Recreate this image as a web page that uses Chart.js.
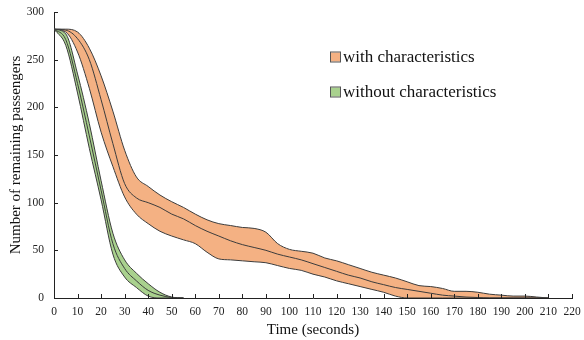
<!DOCTYPE html>
<html>
<head>
<meta charset="utf-8">
<script src="https://cdn.jsdelivr.net/npm/chart.js@4.4.0/dist/chart.umd.min.js"></script>
<style>
    html, body { margin: 0; padding: 0; background: #fff; }
    #wrap { width: 584px; height: 340px; }
</style>
</head>
<body>
<div id="wrap"><canvas id="evacChart" width="584" height="340"></canvas></div>
<script>
// time in seconds
var times = [0, 5, 10, 15, 20, 25, 30, 35, 40, 45, 50, 55, 60, 65, 70, 75, 80, 85, 90, 95, 100,
    105, 110, 115, 120, 125, 130, 135, 140, 145, 150, 155, 160, 165, 170, 175, 180, 185, 190, 195, 200, 205, 210];

// with characteristics (orange band)
var withUpper = [282, 282, 279, 262, 233, 196, 155, 127, 117, 108, 101, 95, 88, 82, 78, 76, 74, 73, 69, 57, 51,
    49, 47, 42, 39, 35, 31, 27, 24, 21, 17, 13, 12, 10, 7, 7, 6, 4, 3, 2, 2, 1, 0];
var withMean = [282, 281, 272, 250, 208, 162, 120, 105, 100, 95, 88, 83, 76, 70, 65, 60, 56, 53, 50, 46, 43,
    40, 36, 32, 28, 24, 21, 17, 14, 11, 9, 7, 5, 3, 2, 1, 0.5, 0, 0, 0, 0, 0, 0];
var withLower = [282, 279, 258, 220, 174, 138, 106, 88, 78, 70, 65, 61, 57, 48, 41, 40, 39, 38, 37, 34, 31,
    29, 25, 22, 18, 15, 12, 9, 6, 2, 0, 0, 0, 0, 0, 0, 0, 0, 0, 0, 0, 0, 0];

// without characteristics (green band)
var timesShort = [0, 5, 10, 15, 20, 25, 30, 35, 40, 45, 50, 55];
var withoutUpper = [282, 277, 235, 183, 123, 68, 40, 26, 15, 6, 1, 0];
var withoutMean = [282, 271, 225, 170, 113, 57, 31, 18, 8, 3, 0.5, 0];
var withoutLower = [282, 265, 215, 157, 103, 46, 22, 11, 2, 0, 0, 0];

var xTickValues = [0, 10, 20, 30, 40, 50, 60, 70, 80, 90, 100, 110, 120, 130, 140, 150, 160, 170, 180, 190, 200, 210, 220];
var yTickValues = [0, 50, 100, 150, 200, 250, 300];

var legendLabels = ['with characteristics', 'without characteristics'];

var ORANGE = 'rgb(244, 177, 131)';
var GREEN = 'rgb(169, 209, 142)';
var EDGE = '#3c3c3c';

function pts(xs, ys) {
    return ys.map(function (v, i) { return { x: xs[i], y: v }; });
}

// lower "order" is drawn on top
function band(xs, ys, fill, color, order) {
    return {
        data: pts(xs, ys),
        borderColor: EDGE,
        borderWidth: 1,
        backgroundColor: color || 'transparent',
        fill: fill,
        order: order,
        pointRadius: 0,
        cubicInterpolationMode: 'monotone'
    };
}

// ticks pointing into the plot, plus the legend box
var decorations = {
    id: 'decorations',
    afterDraw: function (chart) {
        var ctx = chart.ctx;
        var xs = chart.scales.x, ys = chart.scales.y;
        var area = chart.chartArea;
        ctx.save();
        ctx.strokeStyle = '#222';
        ctx.lineWidth = 1;
        ctx.beginPath();
        xTickValues.forEach(function (v) {
            var px = Math.round(xs.getPixelForValue(v)) + 0.5;
            ctx.moveTo(px, area.bottom);
            ctx.lineTo(px, area.bottom - 4);
        });
        yTickValues.forEach(function (v) {
            var py = Math.round(ys.getPixelForValue(v)) + 0.5;
            ctx.moveTo(area.left, py);
            ctx.lineTo(area.left + 4, py);
        });
        ctx.stroke();

        var colors = [ORANGE, GREEN];
        ctx.font = '17px "Liberation Serif", "Times New Roman", serif';
        ctx.textBaseline = 'alphabetic';
        legendLabels.forEach(function (txt, i) {
            var top = 52.5 + i * 35;
            ctx.fillStyle = colors[i];
            ctx.fillRect(331, top, 9, 9);
            ctx.strokeStyle = '#555';
            ctx.strokeRect(330.5, top - 0.5, 10, 10);
            ctx.fillStyle = '#111';
            ctx.fillText(txt, 343, top + 9);
        });
        ctx.restore();
    }
};

Chart.defaults.font.family = '"Liberation Serif", "Times New Roman", serif';
Chart.defaults.color = '#222';

var ctx = document.getElementById('evacChart').getContext('2d');
var evacChart = new Chart(ctx, {
    type: 'line',
    data: {
        datasets: [
            band(times, withLower, false, null, 3),
            band(times, withUpper, '-1', ORANGE, 3),
            band(times, withMean, false, null, 1),
            band(timesShort, withoutLower, false, null, 2),
            band(timesShort, withoutUpper, '-1', GREEN, 2),
            band(timesShort, withoutMean, false, null, 0)
        ]
    },
    options: {
        responsive: false,
        animation: false,
        devicePixelRatio: 1,
        layout: { padding: { top: 12, right: 12, left: 0, bottom: 0 } },
        plugins: {
            legend: { display: false },
            tooltip: { enabled: false }
        },
        scales: {
            x: {
                type: 'linear',
                min: 0,
                max: 220,
                afterBuildTicks: function (scale) {
                    scale.ticks = xTickValues.map(function (v) { return { value: v }; });
                },
                afterFit: function (scale) {
                    scale.height = 42;
                    scale.paddingLeft = 0;
                    scale.paddingRight = 0;
                },
                grid: { display: false, drawTicks: false, tickLength: 0 },
                border: { display: true, color: '#222', width: 1 },
                ticks: { padding: 7, font: { size: 11.5 }, color: '#222', maxRotation: 0, autoSkip: false },
                title: {
                    display: true,
                    text: 'Time (seconds)',
                    font: { size: 15 },
                    color: '#111',
                    padding: { top: 0, bottom: 1 }
                }
            },
            y: {
                min: 0,
                max: 300,
                afterBuildTicks: function (scale) {
                    scale.ticks = yTickValues.map(function (v) { return { value: v }; });
                },
                afterFit: function (scale) {
                    scale.width = 54;
                    scale.paddingTop = 0;
                    scale.paddingBottom = 0;
                },
                grid: { display: false, drawTicks: false, tickLength: 0 },
                border: { display: true, color: '#222', width: 1 },
                ticks: { padding: 10, font: { size: 11.5 }, color: '#222' },
                title: {
                    display: true,
                    text: 'Number of remaining passengers',
                    font: { size: 15 },
                    color: '#111',
                    padding: { top: 7, bottom: 0 }
                }
            }
        }
    },
    plugins: [decorations]
});
</script>
</body>
</html>
